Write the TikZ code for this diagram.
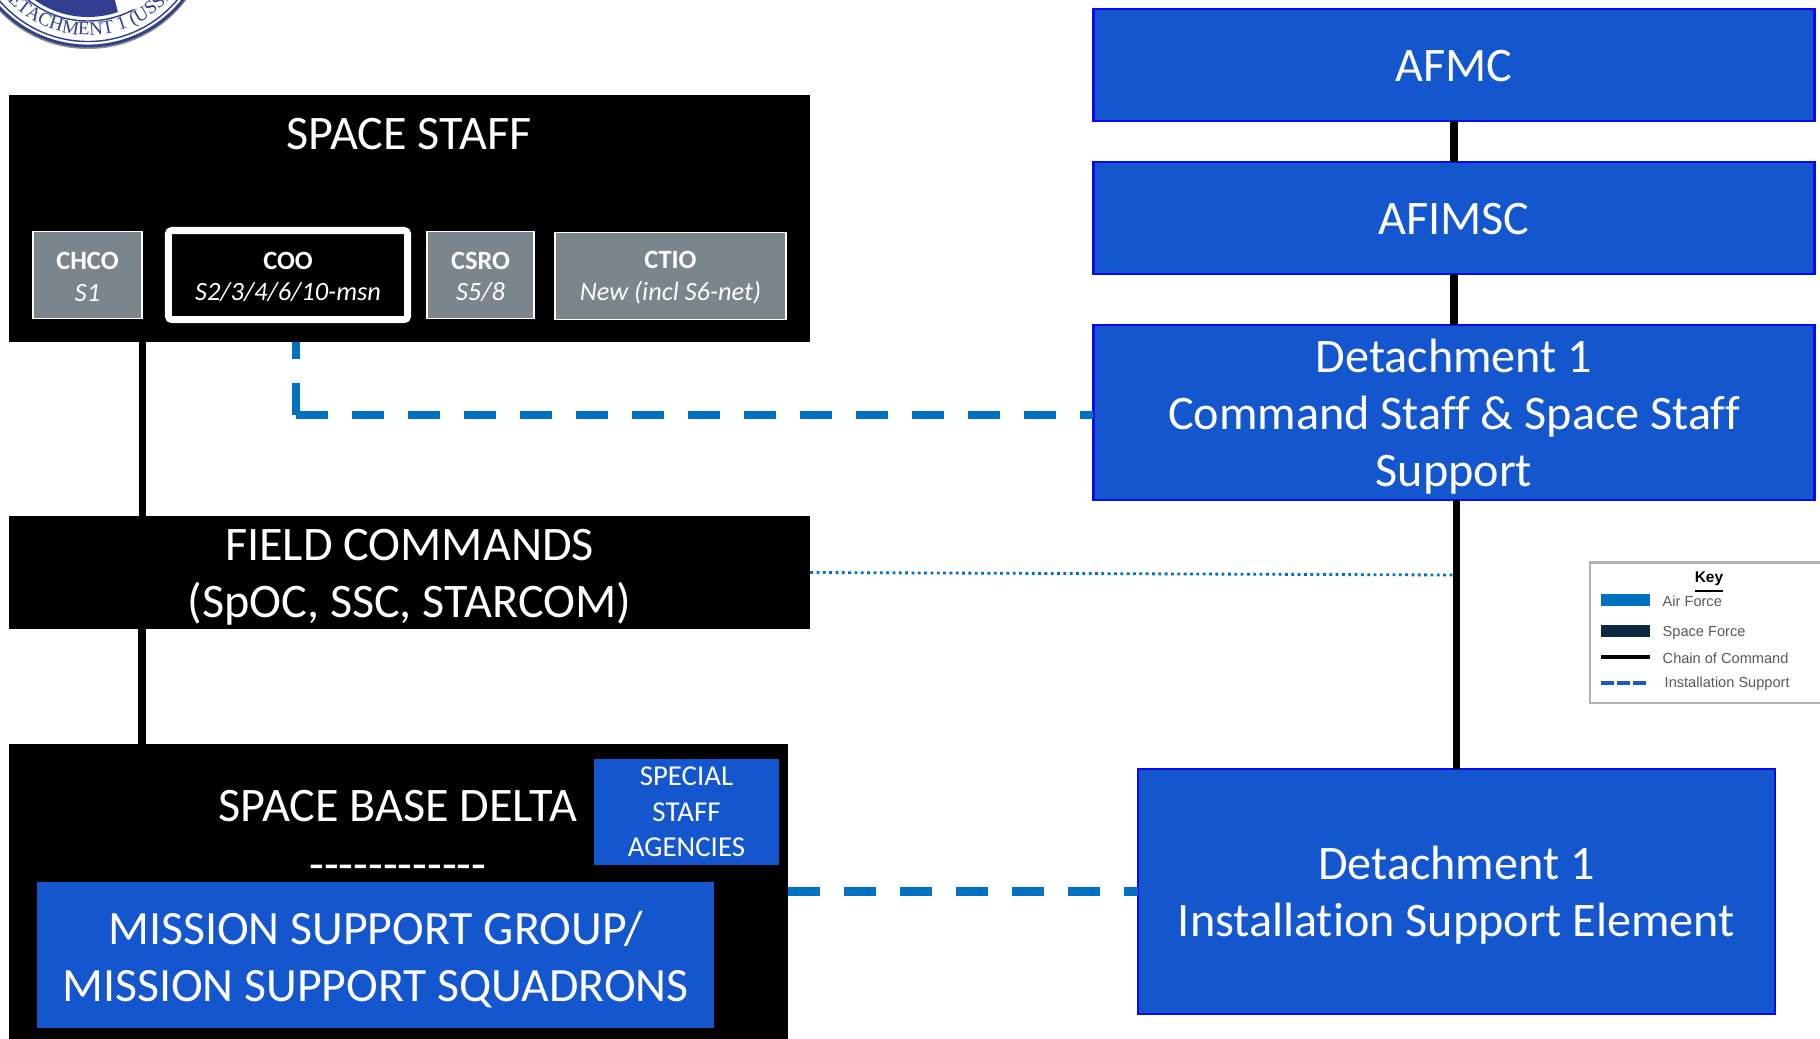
\documentclass[tikz,border=0pt]{standalone}
\usepackage{fontspec}
\setmainfont[Ligatures=NoCommon]{Carlito}
\newfontfamily\logofont{Liberation Serif}
\newfontfamily\keyfont{Liberation Sans}
\usetikzlibrary{decorations.text}
\definecolor{boxblue}{HTML}{1356CE}
\definecolor{edgeblue}{HTML}{0A0AF0}
\definecolor{linkblue}{HTML}{0070C0}
\definecolor{staffgrey}{HTML}{7B868C}
\definecolor{navy}{HTML}{0E2841}
\definecolor{logoblue}{HTML}{2F3E8F}
\tikzset{
  blackbox/.style={fill=black,text=white,inner sep=0pt,outer sep=0pt},
  bluebox/.style={fill=boxblue,draw=edgeblue,line width=0.7pt,text=white,align=center,inner sep=0pt,outer sep=0pt,
    font=\fontsize{13.7}{16.2}\selectfont},
  plainblue/.style={fill=boxblue,text=white,align=center,inner sep=0pt,outer sep=0pt},
  greybox/.style={fill=staffgrey,draw=white,line width=0.5pt,text=white,align=center,inner sep=0pt,outer sep=0pt,
    text height=15pt,font=\fontsize{7.5}{9}\selectfont},
  bigtext/.style={text=white,align=center,inner sep=0pt,font=\fontsize{13.7}{16.2}\selectfont},
  command/.style={line width=2pt},
  support/.style={color=linkblue,line width=2.3pt,dash pattern=on 3.2mm off 2.4mm},
  keytext/.style={anchor=west,inner sep=0pt,text=black!65,font=\keyfont\fontsize{4.15}{5}\selectfont}
}
\begin{document}
\begin{tikzpicture}[x=0.01cm,y=-0.01cm]
\useasboundingbox (0,0) rectangle (1820,1038);
\clip (0,0) rectangle (1820,1038);

% seal, top left
\fill[black!45] (88,-74) circle (123);
\fill[white] (88,-75) circle (122);
\draw[logoblue,line width=0.8pt] (88,-75) circle (121);
\draw[logoblue,line width=0.4pt] (88,-75) circle (116.5);
\draw[logoblue,line width=0.4pt] (88,-75) circle (96);
\fill[logoblue] (88,-75) circle (92);
\fill[white] (115,0)--(118,12)--(140,8)--(166,0)--cycle;
\path[decorate,decoration={text along path,text align=center,
  text={|\logofont\fontsize{5.4}{6}\selectfont\color{logoblue}|DETACHMENT 1 (USSF)}}]
  (88,-75) ++(170:110) arc (170:10:110);

% left column
\node (spacestaff) at (409.5,218.5)[blackbox,minimum width=8.01cm,minimum height=2.47cm]{};
\node (stafftitle) at (409,134)[bigtext]{SPACE STAFF};
\node (chco) at (87.5,275)[greybox,minimum width=1.09cm,minimum height=0.87cm]{\textbf{CHCO}\\ \textit{S1}};
\node (coo) at (288,275)[greybox,fill=black,line width=2pt,rounded corners=1pt,minimum width=2.39cm,minimum height=0.89cm]{\textbf{COO}\\ \textit{S2/3/4/6/10-msn}};
\node (csro) at (480.5,275)[greybox,minimum width=1.07cm,minimum height=0.87cm]{\textbf{CSRO}\\ \textit{S5/8}};
\node (ctio) at (670.5,276)[greybox,minimum width=2.31cm,minimum height=0.87cm]{\textbf{CTIO}\\ \textit{New (incl S6-net)}};

\node (fieldcmd) at (409.5,572.5)[blackbox,minimum width=8.01cm,minimum height=1.13cm,align=center,
  text height=27.6pt,font=\fontsize{13.7}{16.2}\selectfont]{FIELD COMMANDS\\(SpOC, SSC, STARCOM)};

\node (basedelta) at (398.5,895)[blackbox,minimum width=7.79cm,minimum height=3.02cm]{};
\node (deltatitle) at (398,806)[bigtext]{SPACE BASE DELTA};
\node (deltarule) at (398,873)[bigtext]{-{}-{}-{}-{}-{}-{}-{}-{}-{}-{}-{}-};
\node (agencies) at (686.5,812)[plainblue,minimum width=1.85cm,minimum height=1.06cm,
  font=\fontsize{8.2}{10.1}\selectfont]{SPECIAL\\STAFF\\AGENCIES};
\node (msgroup) at (375.5,955)[plainblue,minimum width=6.77cm,minimum height=1.46cm,
  text height=28.2pt,font=\fontsize{13.6}{16.2}\selectfont]{MISSION SUPPORT GROUP/\\MISSION SUPPORT SQUADRONS};

% right column
\node (afmc) at (1454,65)[bluebox,text height=9.4pt,minimum width=7.21cm,minimum height=1.12cm]{AFMC};
\node (afimsc) at (1454,218)[bluebox,text height=9.4pt,minimum width=7.21cm,minimum height=1.12cm]{AFIMSC};
\node (cmdstaff) at (1454,412.5)[bluebox,text height=44.4pt,minimum width=7.21cm,minimum height=1.75cm]{Detachment 1\\Command Staff \& Space Staff\\Support};
\node (support) at (1456.5,891.5)[bluebox,text height=27.9pt,minimum width=6.37cm,minimum height=2.45cm]{Detachment 1\\Installation Support Element};

% chain of command
\draw[command] (afmc)--(afimsc);
\draw[command] (afimsc)--(cmdstaff);
\draw[command] (support.north|-cmdstaff.south)--(support.north);
\draw[command] (chco.south east|-spacestaff.south)--(chco.south east|-fieldcmd.north);
\draw[command] (142,629)--(142,744);

% installation support
\coordinate (dashcorner) at (296,415);
\draw[support] (dashcorner)--(dashcorner|-spacestaff.south);
\draw[support] (dashcorner)--(dashcorner-|cmdstaff.west);
\draw[support] (basedelta.east|-support.west)--(support.west);
\draw[linkblue,line width=0.8pt,densely dotted] (fieldcmd.east)--(1454,575);

% key
\node (keyframe) at (1710,632.5)[draw=black!30,line width=0.6pt,fill=white,minimum width=2.40cm,minimum height=1.40cm,inner sep=0pt]{};
\node (keytitle) at (1709,582.5)[inner sep=0pt,font=\keyfont\bfseries\fontsize{4.4}{5}\selectfont]{\underline{Key}};
\node (airswatch) at (1625.5,600)[fill=linkblue,minimum width=0.49cm,minimum height=0.12cm,inner sep=0pt]{};
\node (spaceswatch) at (1625.5,631)[fill=navy,minimum width=0.49cm,minimum height=0.12cm,inner sep=0pt]{};
\node (airtext) at (1662,601)[keytext]{Air Force};
\node (spacetext) at (1662,632.5)[keytext]{Space Force};
\node (chaintext) at (1662,658)[keytext]{Chain of Command};
\node (installtext) at (1664,683.5)[keytext]{Installation Support};
\draw[line width=1.1pt] (1601,657)--(1650,657);
\draw[boxblue,line width=1.1pt,dash pattern=on 1.25mm off 0.35mm] (1601,683)--(1647,683);

\end{tikzpicture}
\end{document}
